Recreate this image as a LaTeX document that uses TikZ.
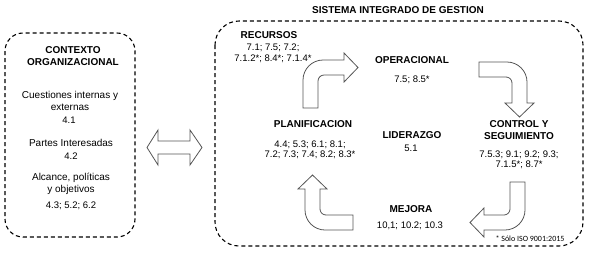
\documentclass[tikz,border=0pt]{standalone}
\usepackage{fontspec}
\setmainfont{Liberation Sans}
\newfontfamily\notefont{Carlito}
\usetikzlibrary{positioning}
\definecolor{arrowgray}{RGB}{85,85,85}

\tikzset{
  pics/bentarrow/.style={code={
    \draw[blockline] (0,48) -- (0,20) .. controls (0,9) and (9,0) .. (20,0) -- (41,0) -- (41,-7)
      -- (55,7.5) -- (41,22) -- (41,15) -- (21,15) .. controls (17.7,15) and (15,17.7) .. (15,21)
      -- (15,48) -- cycle;
  }}
}

\begin{document}
\begin{tikzpicture}[x=1pt,y=-1pt,
  txt/.style={font=\fontsize{10}{12}\selectfont,align=center,inner sep=0pt},
  head/.style={txt,font=\fontsize{10}{12}\selectfont\bfseries},
  num/.style={txt,font=\fontsize{9.5}{11}\selectfont},
  frame/.style={draw,dash pattern=on 4pt off 3pt,line width=1.1pt},
  blockline/.style={draw=arrowgray,fill=white,line width=0.8pt,line join=miter}]
  \useasboundingbox (0,0) rectangle (593,277);

  % contexto
  \draw[frame,rounded corners=18pt] (5,33) rectangle (135,237);
  \node[head] (ctx) at (73,56) {CONTEXTO\\ORGANIZACIONAL};
  \node[txt] (cuest) at (70,101) {Cuestiones internas y\\externas};
  \node[num] (cuestn) at (69,120) {4.1};
  \node[txt] (partes) at (71,143) {Partes Interesadas};
  \node[num] (partesn) at (71,156) {4.2};
  \node[txt] (alc) at (71,183.5) {Alcance, políticas\\y objetivos};
  \node[num] (alcn) at (71,206) {4.3; 5.2; 6.2};

  \draw[blockline] (147,147.5) -- (158,130) -- (158,141) -- (190,141) -- (190,130) -- (202,147.5)
    -- (190,165) -- (190,154) -- (158,154) -- (158,165) -- cycle;

  % sistema integrado
  \node[head] (sig) at (398,10) {SISTEMA INTEGRADO DE GESTION};
  \draw[frame,rounded corners=24pt] (215,21) rectangle (583,246);

  \node[head] (rec) at (269,35) {RECURSOS};
  \node[num] (recn) at (273,53.5) {7.1; 7.5; 7.2;\\7.1.2*; 8.4*; 7.1.4*};
  \node[head] (ope) at (412,60) {OPERACIONAL};
  \node[num] (open) at (412,80) {7.5; 8.5*};
  \node[head] (ctl) at (519,130.5) {CONTROL Y\\SEGUIMIENTO};
  \node[num,font=\fontsize{9.5}{10}\selectfont] (ctln) at (519,160) {7.5.3; 9.1; 9.2; 9.3;\\7.1.5*; 8.7*};
  \node[head] (lid) at (412,135) {LIDERAZGO};
  \node[num] (lidn) at (411,148) {5.1};
  \node[head] (pla) at (313,124) {PLANIFICACION};
  \node[num,font=\fontsize{9.5}{10}\selectfont] (plan) at (310,150) {4.4; 5.3; 6.1; 8.1;\\7.2; 7.3; 7.4; 8.2; 8.3*};
  \node[head] (mej) at (411,209) {MEJORA};
  \node[num] (mejn) at (410,226) {10,1; 10.2; 10.3};
  \node[txt,font=\notefont\fontsize{8}{9}\selectfont] (nota) at (530,239) {* Sólo ISO 9001:2015};

  \pic at (303,60) {bentarrow};
  \pic[rotate=-90] at (527,62) {bentarrow};
  \pic[rotate=-180] at (525,230) {bentarrow};
  \pic[rotate=-270] at (305,230) {bentarrow};
\end{tikzpicture}
\end{document}
